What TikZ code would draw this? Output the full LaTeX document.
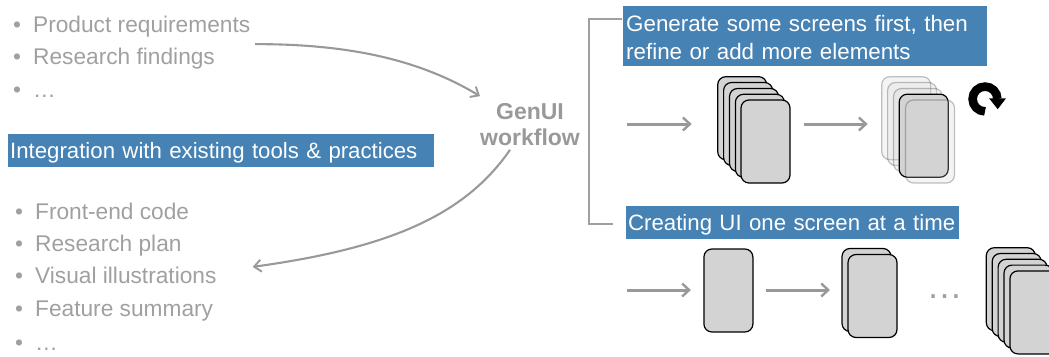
\documentclass[tikz,border=0pt]{standalone}
\usepackage{fontspec}
\setmainfont{Liberation Sans}
\usetikzlibrary{arrows.meta,calc}
\definecolor{bluebar}{HTML}{4682B4}
\definecolor{softgray}{HTML}{A0A0A0}
\definecolor{linegray}{HTML}{999999}
\definecolor{cardfill}{HTML}{D3D3D3}
\tikzset{
  listitem/.style={anchor=base west,inner sep=0pt,text=softgray,font=\fontsize{22.7}{26}\selectfont},
  banner/.style={fill=bluebar,text=white,inner sep=0pt,anchor=north west,font=\fontsize{22.35}{27.5}\selectfont},
  card/.style={draw=black,line width=1.2pt,fill=cardfill,rounded corners=8pt,minimum width=49pt,minimum height=83pt,inner sep=0pt,outer sep=0pt},
  ghost/.style={card,opacity=0.24},
  flow/.style={draw=linegray,line width=3pt,-{Straight Barb[length=7pt,width=13pt,line width=2.4pt]}},
  curvedflow/.style={draw=linegray,line width=2.1pt,-{Straight Barb[length=7pt,width=12pt,line width=1.9pt]}},
  bracketline/.style={draw=softgray,line width=1.6pt}
}
\newcommand{\bul}[1]{\makebox[20pt][l]{•}#1}
\begin{document}
\begin{tikzpicture}[x=1pt,y=-1pt]
\useasboundingbox (0,0) rectangle (1049,356);
% left lists
\node[listitem] (req) at (13,32) {\bul{Product requirements}};
\node[listitem] (find) at (13,64) {\bul{Research findings}};
\node[listitem] (more) at (13,97) {\bul{…}};
\node[banner,minimum width=426pt,minimum height=33pt,text width=422pt,align=left,font=\fontsize{22.2}{27}\selectfont] (integ) at (8,134) {\rule{0pt}{20pt}Integration with existing tools \& practices};
\node[listitem] (code) at (15,219) {\bul{Front-end code}};
\node[listitem] (plan) at (15,251) {\bul{Research plan}};
\node[listitem] (illus) at (15,283) {\bul{Visual illustrations}};
\node[listitem] (summ) at (15,316) {\bul{Feature summary}};
\node[listitem] (moreb) at (15,350) {\bul{…}};
% centre
\node[text=linegray,align=center,inner sep=0pt,font=\bfseries\fontsize{23}{26}\selectfont] (gen) at (530,124.5) {GenUI\\workflow};
\draw[curvedflow] ([shift={(40pt,14pt)}]find.east) .. controls (350,44) and (420,60) .. ([shift={(-50pt,7pt)}]gen.north);
\draw[curvedflow] ([shift={(-20pt,-4pt)}]gen.south) .. controls (465,215) and (390,248) .. ([shift={(36pt,8pt)}]illus.east);
% bracket
\node[banner,minimum width=364pt,minimum height=60pt,text width=358pt,align=left] (gena) at (623,6) {\rule{0pt}{19pt}Generate some screens first, then\\refine or add more elements};
\node[banner,minimum width=333pt,minimum height=33pt,text width=332pt,align=left,font=\fontsize{22.2}{27}\selectfont] (genb) at (626,206) {\rule{0pt}{20pt}\hspace*{1.5pt}Creating UI one screen at a time};
\coordinate (brtop) at (589,19);
\coordinate (brbot) at (589,224);
\draw[bracketline] ([xshift=-1pt]gena.west |- brtop) -- (brtop) -- (brbot) -- ([xshift=-13pt]genb.west |- brbot);
% top row cards
\foreach \i/\x/\y in {0/742.2/118.2,1/748.1/124,2/754/130,3/759.9/135.8,4/765.5/141.5}
  \node[card] (a\i) at (\x,\y) {};
\foreach \i/\x/\y in {0/906.2/118.2,1/912.1/124,2/918/130}
  \node[ghost] (b\i) at (\x,\y) {};
\node[card] (b3) at (923.7,135.7) {};
\node[ghost] (b4) at (930,141.5) {};
\coordinate (ina) at (627,124);
\draw[flow] (ina) -- ([xshift=-26pt]a0.west |- ina);
\draw[flow] ([xshift=14pt]a4.east |- ina) -- ([xshift=-14pt]b0.west |- ina);
% rotate glyph
\node[inner sep=0pt,minimum size=34pt] (rot) at (985,99) {};
\draw[black,line width=8.6pt] ([yshift=-12.4pt]rot.center) arc[start angle=270,delta angle=-270,radius=12.4pt];
\fill[black] (989,98.3) -- (1006,98.3) -- (997.7,109.2) -- cycle;
% bottom row cards
\node[card] (c0) at (728.4,290.5) {};
\node[card] (d0) at (866.5,290) {};
\node[card] (d1) at (872.5,296) {};
\node[text=softgray,inner sep=0pt,font=\fontsize{36}{40}\selectfont] (dots) at (944.5,297) {…};
\foreach \i/\x/\y in {0/1010.8/289.2,1/1016.7/295,2/1022.6/300.8,3/1028.5/306.6,4/1034.4/312.4}
  \node[card] (e\i) at (\x,\y) {};
\coordinate (inb) at (627,290);
\draw[flow] (inb) -- ([xshift=-13pt]c0.west |- inb);
\draw[flow] ([xshift=13pt]c0.east |- inb) -- ([xshift=-12pt]d0.west |- inb);
\end{tikzpicture}
\end{document}
